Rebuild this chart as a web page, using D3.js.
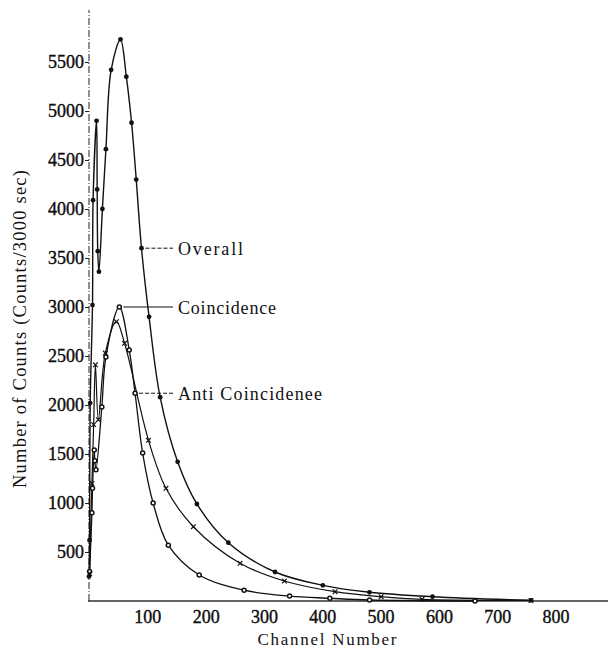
<!DOCTYPE html>
<html>
<head>
<meta charset="utf-8">
<script src="https://cdn.jsdelivr.net/npm/d3@7"></script>
<style>
  html, body { margin: 0; padding: 0; background: #fff; }
  svg { display: block; }
  text { font-family: "Liberation Serif", "DejaVu Serif", serif; fill: #111; }
</style>
</head>
<body>
<svg id="chart" width="608" height="651"></svg>
<script>
// Pulse-height spectra: [channel, counts per 3000 sec]
const overallData = [
  [0, 250], [1, 620], [2, 2020], [6, 3020], [7, 4090], [13, 4900], [14, 4200],
  [15, 3570], [17, 3360], [23, 4000], [29, 4610], [38, 5420], [54, 5730],
  [64, 5350], [73, 4880], [81, 4300], [90, 3600], [103, 2900], [122, 2080],
  [152, 1420], [185, 990], [239, 595], [319, 296], [401, 160], [481, 89],
  [589, 44], [758, 7]
];
const coincidenceData = [
  [1, 300], [5, 900], [6, 1150], [9, 1540], [10, 1430], [12, 1340], [22, 1980],
  [29, 2490], [52, 3000], [69, 2560], [79, 2120], [92, 1510], [110, 1000],
  [136, 570], [189, 265], [266, 110], [344, 50], [413, 28], [481, 10], [662, 0]
];
const antiData = [
  [1, 280], [5, 1200], [8, 1800], [11, 2410], [16, 1850], [28, 2530], [47, 2850],
  [61, 2630], [102, 1640], [132, 1150], [179, 758], [259, 385], [335, 204],
  [422, 95], [501, 44], [571, 17], [758, 5]
];

const xTicks = [100, 200, 300, 400, 500, 600, 700, 800];
const yTicks = [500, 1000, 1500, 2000, 2500, 3000, 3500, 4000, 4500, 5000, 5500];

const xTitle = "Channel Number";
const yTitle = "Number of Counts  (Counts/3000 sec)";

// Curve labels: text, the point the leader starts from, leader style
const curveLabels = [
  { text: "Overall", at: [90, 3600], dashed: true, len: 65 },
  { text: "Coincidence", at: [52, 3000], dashed: false, len: 98 },
  { text: "Anti Coincidenee", at: [79, 2120], dashed: true, len: 144 }
];

const svg = d3.select("#chart");

const x = d3.scaleLinear().domain([0, 890]).range([89, 608]);
const y = d3.scaleLinear().domain([0, 6000]).range([601, 13]);

// Axes
const xAxis = svg.append("g")
  .attr("transform", `translate(0,${y(0)})`)
  .call(d3.axisBottom(x).tickValues(xTicks).tickSize(0).tickPadding(9).tickFormat(d3.format("d")));
xAxis.select(".domain").remove();
xAxis.selectAll("text")
  .style("font-size", "18px").style("font-family", "Liberation Serif")
  .attr("fill", "#000").attr("stroke", "#000").attr("stroke-width", 0.35);

svg.append("line")
  .attr("x1", x(0) - 1).attr("x2", 608)
  .attr("y1", y(0)).attr("y2", y(0))
  .attr("stroke", "#333").attr("stroke-width", 1.6);

const yAxis = svg.append("g")
  .attr("transform", `translate(${x(0)},0)`)
  .call(d3.axisLeft(y).tickValues(yTicks).tickSize(4).tickPadding(1).tickFormat(d3.format("d")));
yAxis.select(".domain").remove();
yAxis.selectAll("line").attr("stroke", "#222").attr("stroke-width", 1);
yAxis.selectAll("text")
  .style("font-size", "18px").style("font-family", "Liberation Serif")
  .attr("fill", "#000").attr("stroke", "#000").attr("stroke-width", 0.35);

svg.append("line")
  .attr("x1", x(0)).attr("x2", x(0))
  .attr("y1", y(0)).attr("y2", 10)
  .attr("stroke", "#222").attr("stroke-width", 1)
  .attr("stroke-dasharray", "7,2,1,2");

// Axis titles
svg.append("text")
  .attr("x", 327).attr("y", 645)
  .attr("text-anchor", "middle")
  .attr("textLength", 139).attr("lengthAdjust", "spacing")
  .style("font-size", "17px")
  .text(xTitle);

svg.append("text")
  .attr("transform", "translate(26,329) rotate(-90)")
  .attr("text-anchor", "middle")
  .attr("textLength", 318).attr("lengthAdjust", "spacing")
  .style("font-size", "18.5px")
  .text(yTitle);

// Curves
const line = d3.line()
  .x(d => x(d[0]))
  .y(d => y(d[1]))
  .curve(d3.curveCatmullRom.alpha(0.5));

const series = [
  { data: overallData, marker: "dot", width: 1.4 },
  { data: coincidenceData, marker: "circle", width: 1.3 },
  { data: antiData, marker: "cross", width: 1.2 }
];

series.forEach(s => {
  svg.append("path")
    .datum(s.data)
    .attr("fill", "none")
    .attr("stroke", "#111")
    .attr("stroke-width", s.width)
    .attr("d", line);
});

series.forEach(s => {
  const g = svg.append("g");
  if (s.marker === "dot") {
    g.selectAll("circle").data(s.data).join("circle")
      .attr("cx", d => x(d[0])).attr("cy", d => y(d[1]))
      .attr("r", 2.4).attr("fill", "#111");
  } else if (s.marker === "circle") {
    g.selectAll("circle").data(s.data).join("circle")
      .attr("cx", d => x(d[0])).attr("cy", d => y(d[1]))
      .attr("r", 2).attr("fill", "#fff")
      .attr("stroke", "#111").attr("stroke-width", 1.5);
  } else {
    g.selectAll("path").data(s.data).join("path")
      .attr("d", d => {
        const cx = x(d[0]), cy = y(d[1]), r = 2.3;
        return `M${cx - r},${cy - r}L${cx + r},${cy + r}M${cx - r},${cy + r}L${cx + r},${cy - r}`;
      })
      .attr("stroke", "#111").attr("stroke-width", 1.2).attr("fill", "none");
  }
});

// Curve labels with leaders
const labelX = 178;
curveLabels.forEach(l => {
  const px = x(l.at[0]), py = y(l.at[1]);
  svg.append("line")
    .attr("x1", px + 4).attr("x2", labelX - 5)
    .attr("y1", py).attr("y2", py)
    .attr("stroke", "#111").attr("stroke-width", 1)
    .attr("stroke-dasharray", l.dashed ? "4,2" : null);
  svg.append("text")
    .attr("x", labelX).attr("y", py + 6.5)
    .attr("textLength", l.len).attr("lengthAdjust", "spacing")
    .style("font-size", "18px")
    .text(l.text);
});
</script>
</body>
</html>
